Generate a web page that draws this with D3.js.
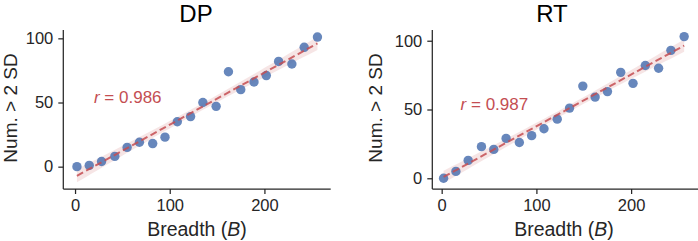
<!DOCTYPE html>
<html lang="en">
<head>
<meta charset="utf-8">
<script src="https://d3js.org/d3.v7.min.js"></script>
<style>
  body { margin: 0; background: #fff; }
  svg { font-family: "Liberation Sans", Arial, sans-serif; }
  .axis path, .axis line { stroke: #262626; stroke-width: 1.25; }
  .axis text { fill: #262626; font-size: 16.5px; }
</style>
</head>
<body>
<div id="chart"></div>
<script>
// breadth values shared by both panels
var breadth = [2, 15, 28, 42, 55, 68, 82, 95, 108, 122, 135, 149, 162, 175, 189, 202, 215, 229, 242, 256];
// number of cells above 2 SD
var dpCounts = [0, 1, 4, 8, 15, 19, 18, 23, 35, 39, 50, 47, 74, 60, 66, 71, 82, 80, 93, 101];
var rtCounts = [0, 5, 13, 23, 21, 29, 26, 31, 36, 43, 51, 67, 59, 63, 77, 69, 82, 80, 93, 103];
var panelTitles = ["DP", "RT"];
var rLabels = ["0.986", "0.987"];
var xTicks = [0, 100, 200];
var yTicks = [0, 50, 100];

var width = 698, height = 241;
var svg = d3.select("#chart").append("svg")
    .attr("width", width)
    .attr("height", height);

// panel layout (pixel boxes + axis ranges)
var panels = [
  {counts: dpCounts, left: 63.3, right: 330.7, top: 30, bottom: 189,
   xDom: [-12.4, 270], yDom: [-17.4, 106.5], titleX: 196, labelX: 197, yLabelX: 17.3},
  {counts: rtCounts, left: 432.3, right: 699.7, top: 30, bottom: 189,
   xDom: [-9.9, 272.4], yDom: [-7.8, 107.8], titleX: 552, labelX: 564, yLabelX: 382}
];

function fit(xs, ys) {
  var n = xs.length, mx = d3.mean(xs), my = d3.mean(ys);
  var sxx = d3.sum(xs, function(x) { return (x - mx) * (x - mx); });
  var sxy = d3.sum(xs, function(x, i) { return (x - mx) * (ys[i] - my); });
  var b = sxy / sxx, a = my - b * mx;
  var sse = d3.sum(xs, function(x, i) { var e = ys[i] - (a + b * x); return e * e; });
  var s = Math.sqrt(sse / (n - 2));
  return {a: a, b: b, s: s, n: n, mx: mx, sxx: sxx};
}

panels.forEach(function(p, k) {
  var x = d3.scaleLinear().domain(p.xDom).range([p.left, p.right]);
  var y = d3.scaleLinear().domain(p.yDom).range([p.bottom, p.top]);
  var g = svg.append("g");

  var f = fit(breadth, p.counts);
  var x0 = d3.min(breadth), x1 = d3.max(breadth);
  var grid = d3.range(0, 51).map(function(i) { return x0 + (x1 - x0) * i / 50; });
  var band = grid.map(function(v) {
    var se = f.s * Math.sqrt(1 / f.n + (v - f.mx) * (v - f.mx) / f.sxx);
    var m = f.a + f.b * v;
    return {x: v, lo: m - 2.1 * se, hi: m + 2.1 * se};
  });

  // confidence band
  g.append("path")
      .datum(band)
      .attr("fill", "#c44e52")
      .attr("fill-opacity", 0.15)
      .attr("d", d3.area()
        .x(function(d) { return x(d.x); })
        .y0(function(d) { return y(d.lo); })
        .y1(function(d) { return y(d.hi); }));

  // points
  g.append("g").selectAll("circle")
      .data(breadth)
    .enter().append("circle")
      .attr("cx", function(d) { return x(d); })
      .attr("cy", function(d, i) { return y(p.counts[i]); })
      .attr("r", 4.7)
      .attr("fill", "#4c72b0")
      .attr("fill-opacity", 0.85);

  // regression line
  g.append("line")
      .attr("x1", x(x0)).attr("y1", y(f.a + f.b * x0))
      .attr("x2", x(x1)).attr("y2", y(f.a + f.b * x1))
      .attr("stroke", "#c44e52")
      .attr("stroke-opacity", 0.85)
      .attr("stroke-width", 2)
      .attr("stroke-dasharray", "7,3.5");

  // axes
  g.append("g")
      .attr("class", "axis")
      .attr("transform", "translate(0," + p.bottom + ")")
      .call(d3.axisBottom(x).tickValues(xTicks).tickSize(5).tickPadding(5).tickSizeOuter(0))
      .call(function(a) { a.select(".domain").attr("d", "M" + p.left + ",0H" + p.right); });
  g.append("g")
      .attr("class", "axis")
      .attr("transform", "translate(" + p.left + ",0)")
      .call(d3.axisLeft(y).tickValues(yTicks).tickSize(5).tickPadding(5).tickSizeOuter(0))
      .call(function(a) { a.select(".domain").attr("d", "M0," + p.top + "V" + p.bottom); });

  // r annotation at data (20, 50)
  var t = g.append("text")
      .attr("x", x(20))
      .attr("y", y(50))
      .attr("fill", "#c44e52")
      .attr("font-size", "17px");
  t.append("tspan").attr("font-style", "italic").text("r");
  t.append("tspan").text(" = " + rLabels[k]);

  // titles and labels
  g.append("text")
      .attr("x", p.titleX)
      .attr("y", 22)
      .attr("text-anchor", "middle")
      .attr("font-size", "24px")
      .attr("fill", "#000")
      .text(panelTitles[k]);

  var xl = g.append("text")
      .attr("x", p.labelX)
      .attr("y", 236)
      .attr("text-anchor", "middle")
      .attr("font-size", "19.5px")
      .attr("fill", "#262626");
  xl.append("tspan").text("Breadth (");
  xl.append("tspan").attr("font-style", "italic").text("B");
  xl.append("tspan").text(")");

  g.append("text")
      .attr("transform", "translate(" + p.yLabelX + ",108) rotate(-90)")
      .attr("text-anchor", "middle")
      .attr("font-size", "19px")
      .attr("fill", "#262626")
      .text("Num. > 2 SD");
});
</script>
</body>
</html>
